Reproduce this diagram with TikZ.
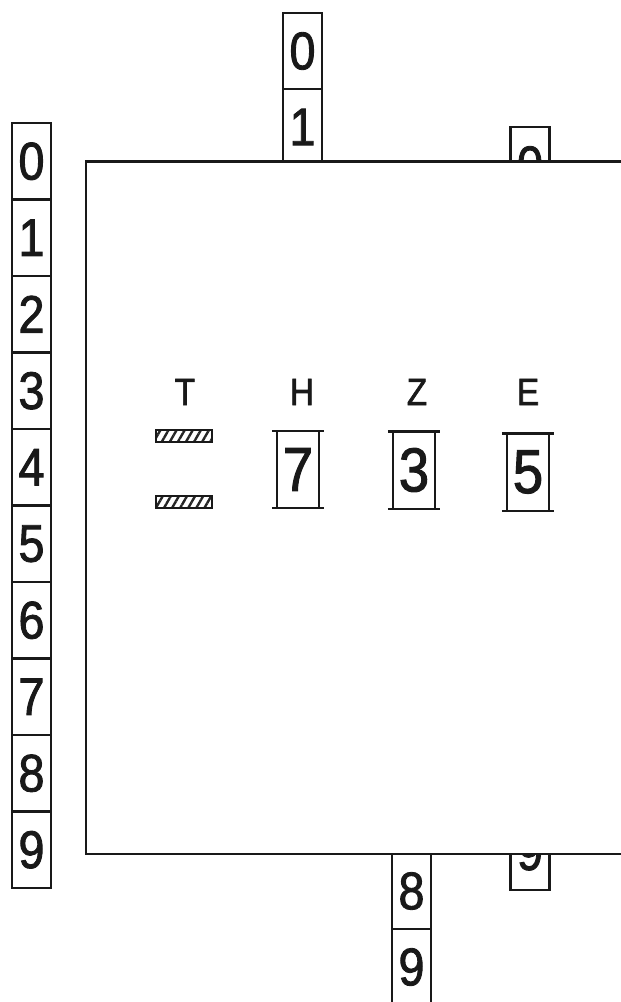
\documentclass[tikz,border=0pt]{standalone}
\usepackage{fontspec}
\setmainfont{Liberation Sans}[FakeStretch=0.88, FakeBold=1.6]
\usetikzlibrary{patterns.meta}

\newcommand{\celldigit}{\fontsize{53}{60}\selectfont}
\newcommand{\windigit}{\fontsize{62}{70}\selectfont}
\newcommand{\colfont}{\fontsize{38}{44}\selectfont}

\begin{document}
\begin{tikzpicture}[
    x=1pt, y=-1pt,
    line width=2.2pt,
    cell/.style={
        rectangle, draw=black!90, fill=white, line width=2.2pt,
        minimum width=39pt, minimum height=76.5pt, inner sep=0pt,
        font=\celldigit, text=black!90
    },
    frame/.style={
        rectangle, fill=white, minimum width=540pt, minimum height=690pt,
        inner sep=0pt
    },
    wbox/.style={
        rectangle, minimum width=40pt, minimum height=75pt, inner sep=0pt,
        font=\windigit, text=black!90
    },
    collabel/.style={font=\colfont, text=black!90, inner sep=0pt},
    blank/.style={
        rectangle, draw=black!90, line width=2pt,
        minimum width=56pt, minimum height=12pt, inner sep=0pt,
        pattern={Lines[angle=60, distance=7pt, line width=2.4pt]},
        pattern color=black!85
    },
]
\useasboundingbox (0,0) rectangle (621,1002);
\clip (0,0) rectangle (621,1002);

% strips, only the cells that show past the frame
\foreach \d in {0,1}
    \node[cell] (h\d) at (302.5,{51+76*\d}) {\d};
\foreach \d in {8,9}
    \node[cell] (z\d) at (411.5,{967-76*(9-\d)}) {\d};
\foreach \d in {0,9}
    \node[cell] (e\d) at (530,{165+76.3*\d}) {\d};

% left strip
\foreach \d in {0,...,9}
    \node[cell] (l\d) at (31.5,{161.25+76.5*\d}) {\d};

% frame, open to the right
\node[frame] (frame) at (357,507.5) {};
\draw[black!90] (frame.north east) -- (frame.north west)
    -- (frame.south west) -- (frame.south east);

% column heads
\node[collabel] (lblT) at (185,392) {T};
\node[collabel] (lblH) at (302,392) {H};
\node[collabel] (lblZ) at (417,392) {Z};
\node[collabel] (lblE) at (528,392) {E};

% blanked thousands
\node[blank] (barT1) at (184,436) {};
\node[blank] (barT2) at (184,502) {};

% windows
\node[wbox] (winH) at (298,469.5) {7};
\node[wbox] (winZ) at (414,470) {3};
\node[wbox] (winE) at (528,472) {5};

\foreach \w in {winH,winZ,winE}{
    \draw[black!90] ([xshift=-5pt]\w.north west) -- ([xshift=5pt]\w.north east);
    \draw[black!90] ([xshift=-5pt]\w.south west) -- ([xshift=5pt]\w.south east);
    \draw[black!90] (\w.north west) -- (\w.south west)
        (\w.north east) -- (\w.south east);
}

\end{tikzpicture}
\end{document}
